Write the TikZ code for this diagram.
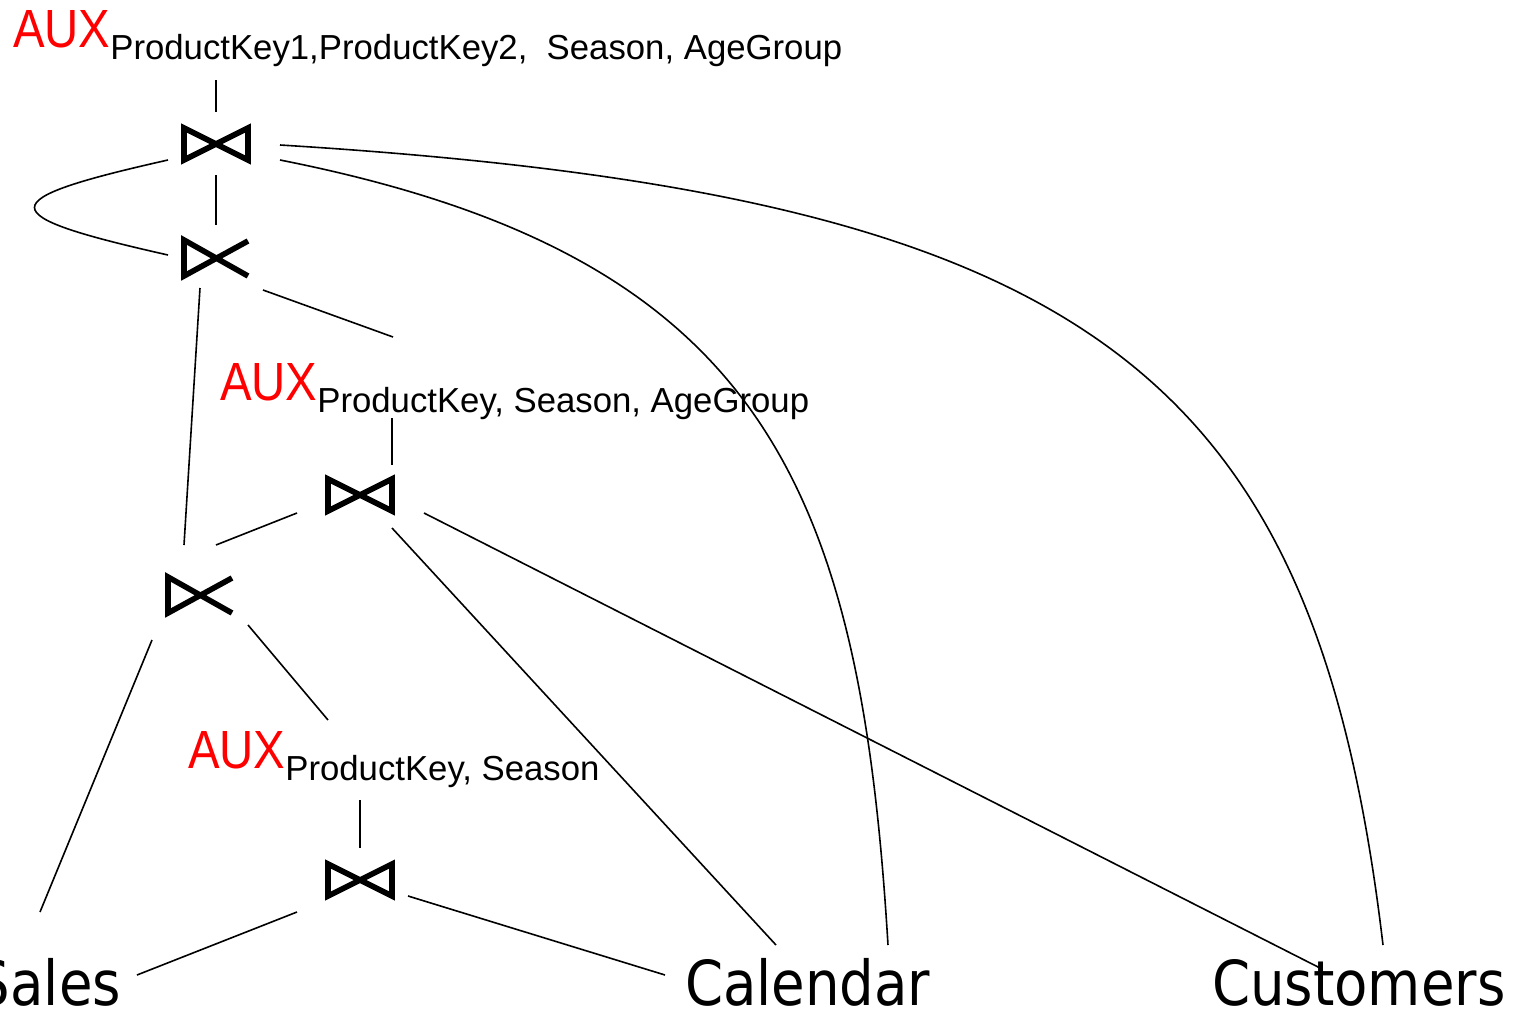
\documentclass[tikz,border=0pt]{standalone}
\usepackage{fontspec}
\setmainfont{Liberation Sans}
\newfontfamily\relfont{DejaVu Sans}
\usetikzlibrary{calc}

\tikzset{
  conn/.style={line width=0.8pt},
  opsym/.style={line width=2.8pt, line join=miter, line cap=butt},
  joinsym/.pic={\draw[opsym] (-32,-16) -- (32,16) -- (32,-16) -- (-32,16) -- cycle;},
  semisym/.pic={\draw[opsym] (32,-17) -- (-32,18) -- (-32,-18) -- (32,18);},
  auxlabel/.style={anchor=base west, inner sep=0pt, outer sep=0pt},
  relname/.style={inner sep=0pt, outer sep=0pt,
    font=\relfont\fontsize{31}{31}\selectfont}
}
\newcommand{\auxtext}[1]{{\color{red}\fontsize{26.9}{26.9}\selectfont\scalebox{0.88}[1]{AUX}}\raisebox{-6pt}{\fontsize{17.37}{17.37}\selectfont #1}}
% relation name, narrowed, with no depth below its baseline
\newcommand{\relword}[1]{\raisebox{0pt}[\height][0pt]{\scalebox{0.88}[1]{#1}}}

\begin{document}
\begin{tikzpicture}[x=0.5pt, y=-0.5pt]
\useasboundingbox (0,0) rectangle (1528,1012);

% operator symbols
\coordinate (j1) at (216,144);
\coordinate (s1) at (216,258);
\coordinate (j2) at (360,495);
\coordinate (s2) at (200,595);
\coordinate (j3) at (360,880);
\pic at (j1) {joinsym};
\pic at (s1) {semisym};
\pic at (j2) {joinsym};
\pic at (s2) {semisym};
\pic at (j3) {joinsym};

% projection labels
\node[auxlabel] (aux1) at (13,47) {\auxtext{ProductKey1,ProductKey2,\ \ Season, AgeGroup}};
\node[auxlabel] (aux2) at (220,400) {\auxtext{ProductKey, Season, AgeGroup}};
\node[auxlabel] (aux3) at (188,768) {\auxtext{ProductKey, Season}};

% base relations
\node[relname, anchor=base east] (sales) at (121,1005) {\relword{Sales}};
\node[relname, anchor=base west] (cal) at (685,1005) {\relword{Calendar}};
\node[relname, anchor=base west] (cust) at (1212,1005) {\relword{Customers}};

% connector end points
\coordinate (a1b) at (216,80);   \coordinate (j1t) at (216,112);
\coordinate (j1b) at (216,175);  \coordinate (s1t) at (216,225);
\coordinate (j1l) at (168,160);  \coordinate (s1l) at (168,255);
\coordinate (j1r) at (280,145);  \coordinate (custt) at (1383,945);
\coordinate (j1rr) at (280,160); \coordinate (calt) at (888,945);
\coordinate (s1r) at (263,290);  \coordinate (a2l) at (393,337);
\coordinate (s1d) at (200,288);  \coordinate (s2t) at (184,545);
\coordinate (a2b) at (392,418);  \coordinate (j2t) at (392,465);
\coordinate (j2l) at (297,513);  \coordinate (s2r) at (216,545);
\coordinate (j2d) at (392,528);  \coordinate (calu) at (776,945);
\coordinate (j2r) at (424,513);  \coordinate (custc) at (1320,968);
\coordinate (s2l) at (152,640);  \coordinate (salest) at (40,912);
\coordinate (s2d) at (248,625);  \coordinate (a3l) at (328,720);
\coordinate (a3b) at (360,800);  \coordinate (j3t) at (360,848);
\coordinate (j3l) at (297,912);  \coordinate (salesr) at (137,975);
\coordinate (j3r) at (408,896);  \coordinate (call) at (665,975);

% connectors
\draw[conn] (a1b) -- (j1t);
\draw[conn] (j1b) -- (s1t);
\draw[conn] (j1l) .. controls (-10,200) and (-10,215) .. (s1l);
\draw[conn] (j1r) .. controls (1090,195) and (1315,370) .. (custt);
\draw[conn] (j1rr) .. controls (760,255) and (860,480) .. (calt);
\draw[conn] (s1r) -- (a2l);
\draw[conn] (s1d) -- (s2t);
\draw[conn] (a2b) -- (j2t);
\draw[conn] (j2l) -- (s2r);
\draw[conn] (j2d) -- (calu);
\draw[conn] (j2r) -- (custc);
\draw[conn] (s2l) -- (salest);
\draw[conn] (s2d) -- (a3l);
\draw[conn] (a3b) -- (j3t);
\draw[conn] (j3l) -- (salesr);
\draw[conn] (j3r) -- (call);
\end{tikzpicture}
\end{document}
